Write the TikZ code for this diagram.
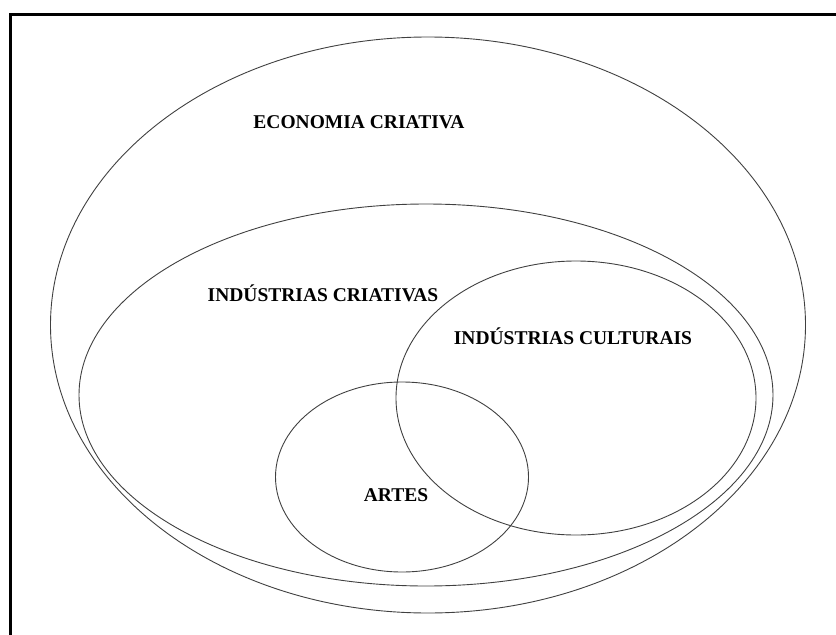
\documentclass[tikz,border=0pt]{standalone}
\usepackage{fontspec}
\setmainfont{Liberation Serif}
\usepackage{tikz}
\usetikzlibrary{shapes.geometric}

\begin{document}
\begin{tikzpicture}[x=1pt, y=-1pt,
		setline/.style = {draw=black!75, line width=0.9pt, ellipse, inner sep=0pt},
		setlabel/.style = {font=\fontsize{19.5}{21}\selectfont\bfseries, inner sep=0pt}]
				\def\W{836};
				\def\H{635};

				\useasboundingbox (0,0) rectangle (\W,\H);

				% frame (top and left edges only)
				\draw [line width=3pt] (10,\H+2) -- (10,14) -- (\W+2,14);

				% sets
				\begin{scope}
					\node [setline, minimum width=755pt, minimum height=576pt] (economia) at (428,325) {};
					\node [setline, minimum width=694pt, minimum height=382pt] (criativas) at (426,395) {};
					\node [setline, minimum width=360pt, minimum height=274pt] (culturais) at (576,398) {};
					\node [setline, minimum width=253pt, minimum height=190pt] (artes) at (402,477) {};
				\end{scope}

				% labels
				\begin{scope}
					\node [setlabel] (economia label) at (359,122) {ECONOMIA CRIATIVA};
					\node [setlabel] (criativas label) at (323,293) {INDÚSTRIAS CRIATIVAS};
					\node [setlabel] (culturais label) at (573,336) {INDÚSTRIAS CULTURAIS};
					\node [setlabel] (artes label) at (396,495) {ARTES};
				\end{scope}
			\end{tikzpicture}
\end{document}
